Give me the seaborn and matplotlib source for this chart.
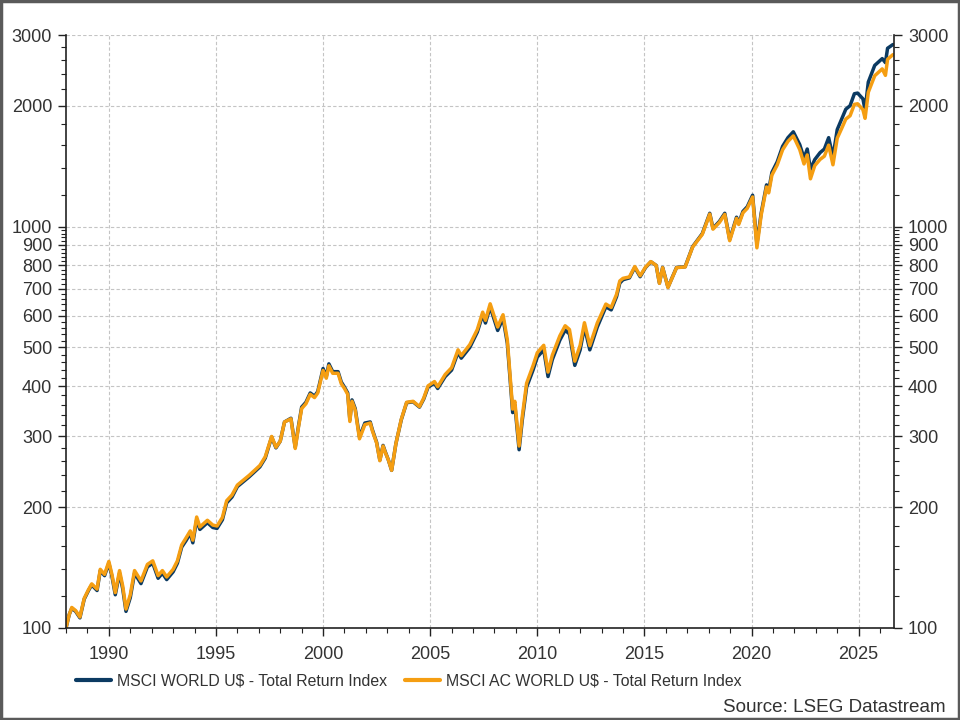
"""
MSCI World vs MSCI AC World total return indices (rebased to 100), log scale
"""
import numpy as np
import pandas as pd
import seaborn as sns
import matplotlib
matplotlib.use("Agg")
import matplotlib.pyplot as plt
from matplotlib.ticker import FixedLocator, NullFormatter, FixedFormatter, MultipleLocator
from matplotlib.patches import Rectangle


YEARS = [
    1988.00, 1988.15, 1988.27, 1988.45, 1988.65, 1988.85, 1989.05, 1989.20, 1989.45, 1989.60,
    1989.80, 1990.00, 1990.15, 1990.30, 1990.50, 1990.65, 1990.80, 1991.00, 1991.20, 1991.50,
    1991.80, 1992.05, 1992.30, 1992.50, 1992.70, 1993.00, 1993.20, 1993.40, 1993.60, 1993.80,
    1993.92, 1994.10, 1994.25, 1994.60, 1994.85, 1995.05, 1995.30, 1995.50, 1995.75, 1996.00,
    1996.30, 1996.55, 1996.80, 1997.05, 1997.30, 1997.60, 1997.80, 1998.00, 1998.20, 1998.50,
    1998.70, 1998.85, 1999.00, 1999.20, 1999.40, 1999.60, 1999.75, 2000.00, 2000.15, 2000.27,
    2000.45, 2000.70, 2000.85, 2001.00, 2001.15, 2001.25, 2001.35, 2001.50, 2001.70, 2001.95,
    2002.20, 2002.30, 2002.50, 2002.65, 2002.80, 2002.90, 2003.05, 2003.20, 2003.40, 2003.65,
    2003.90, 2004.20, 2004.50, 2004.70, 2004.90, 2005.20, 2005.35, 2005.70, 2006.00, 2006.30,
    2006.45, 2006.85, 2007.20, 2007.45, 2007.58, 2007.80, 2008.15, 2008.40, 2008.60, 2008.85,
    2008.95, 2009.15, 2009.30, 2009.50, 2009.80, 2010.00, 2010.30, 2010.50, 2010.70, 2011.05,
    2011.30, 2011.50, 2011.75, 2012.00, 2012.20, 2012.45, 2012.80, 2013.20, 2013.45, 2013.70,
    2013.85, 2014.00, 2014.30, 2014.55, 2014.80, 2015.05, 2015.30, 2015.55, 2015.70, 2015.85,
    2016.10, 2016.50, 2016.90, 2017.25, 2017.70, 2018.05, 2018.20, 2018.50, 2018.75, 2018.98,
    2019.30, 2019.40, 2019.60, 2019.80, 2020.05, 2020.25, 2020.45, 2020.70, 2020.80, 2020.95,
    2021.20, 2021.45, 2021.70, 2021.95, 2022.25, 2022.45, 2022.60, 2022.75, 2022.95, 2023.20,
    2023.40, 2023.60, 2023.80, 2024.00, 2024.20, 2024.40, 2024.60, 2024.80, 2024.95, 2025.20,
    2025.30, 2025.45, 2025.75, 2026.10, 2026.25, 2026.35, 2026.60,
]

MSCI_WORLD = [
    100, 108, 112, 110, 106, 118, 124, 128, 124, 139,
    135, 145, 134, 121, 137, 125, 110, 119, 137, 129,
    142, 145, 133, 137, 132, 138, 145, 159, 165, 172,
    163, 186, 176, 183, 178, 177, 186, 205, 212, 225,
    232, 238, 245, 252, 265, 299, 281, 292, 326, 333,
    282, 318, 355, 365, 385, 378, 388, 443, 423, 455,
    435, 435, 410, 398, 385, 330, 370, 352, 299, 324,
    326, 312, 290, 262, 285, 275, 262, 247, 288, 330,
    364, 366, 355, 372, 398, 407, 395, 423, 439, 486,
    470, 500, 546, 603, 575, 631, 551, 591, 512, 344,
    360, 278, 330, 398, 439, 473, 493, 423, 466, 521,
    552, 540, 451, 493, 562, 493, 562, 631, 620, 669,
    723, 737, 745, 791, 750, 790, 817, 800, 723, 791,
    706, 791, 794, 891, 960, 1079, 990, 1030, 1079, 928,
    1055, 1019, 1091, 1120, 1197, 905, 1080, 1270, 1230, 1364,
    1450, 1584, 1665, 1722, 1600, 1480, 1560, 1388, 1468, 1528,
    1560, 1665, 1490, 1744, 1850, 1960, 2000, 2142, 2150, 2080,
    1950, 2290, 2520, 2620, 2560, 2780, 2840,
]

MSCI_AC_WORLD = [
    100, 108, 112.5, 110.5, 106.5, 118.5, 124.6, 128.8, 125, 140,
    136, 146.5, 135.5, 122.5, 139, 127, 111.5, 121, 139, 131,
    144, 147, 135, 139, 134, 140, 147, 161, 167.5, 174.5,
    165.5, 189, 178.5, 185.5, 180.5, 179.5, 188.5, 207.5, 214.5, 227,
    234, 240, 247, 254, 267, 300, 282, 292, 326, 332,
    280, 316, 352, 362, 382, 375, 385, 438, 419, 450,
    431, 431, 406, 395, 382, 327, 367, 349, 296, 321,
    324, 310, 289, 261, 284, 274, 262, 247, 288, 331,
    365, 367, 356, 374, 401, 411, 399, 428, 445, 493,
    477, 508, 554, 612, 584, 642, 562, 603, 522, 351,
    367, 284, 337, 407, 450, 485, 506, 434, 478, 534,
    566, 554, 462, 506, 576, 505, 575, 641, 629, 678,
    732, 743, 749, 795, 754, 792, 818, 800, 722, 790,
    705, 790, 793, 889, 956, 1074, 985, 1024, 1072, 922,
    1048, 1012, 1082, 1110, 1185, 885, 1068, 1255, 1213, 1343,
    1424, 1553, 1630, 1682, 1555, 1432, 1508, 1315, 1418, 1470,
    1497, 1595, 1425, 1660, 1752, 1852, 1888, 2015, 2022, 1955,
    1860, 2160, 2375, 2470, 2380, 2610, 2680,
]

SERIES_NAMES = ["MSCI WORLD U$ - Total Return Index", "MSCI AC WORLD U$ - Total Return Index"]
COLORS = ["#0b3a62", "#f59e12"]

Y_MAJOR = [100, 200, 300, 400, 500, 600, 700, 800, 900, 1000, 2000, 3000]
Y_MINOR = [v for v in range(120, 1000, 20) if v % 100 != 0] + \
          [v for v in range(1200, 3000, 200) if v % 1000 != 0]

sns.set_style("ticks")
plt.rcParams['font.family'] = ['Liberation Sans', 'DejaVu Sans']

df = pd.DataFrame({
    "year": YEARS * 2,
    "value": MSCI_WORLD + MSCI_AC_WORLD,
    "series": [SERIES_NAMES[0]] * len(YEARS) + [SERIES_NAMES[1]] * len(YEARS),
})

fig = plt.figure(figsize=(9.6, 7.2), dpi=100)
ax = fig.add_axes([66 / 960, 1 - 628 / 720, (894 - 66) / 960, (628 - 35) / 720])

sns.lineplot(data=df, x="year", y="value", hue="series", hue_order=SERIES_NAMES,
             palette=COLORS, linewidth=2.5, ax=ax, legend=True)

ax.set_yscale("log")
ax.set_ylim(100, 3000)
ax.set_xlim(1988.0, 2026.65)

ax.yaxis.set_major_locator(FixedLocator(Y_MAJOR))
ax.yaxis.set_major_formatter(FixedFormatter([str(v) for v in Y_MAJOR]))
ax.yaxis.set_minor_locator(FixedLocator(Y_MINOR))
ax.yaxis.set_minor_formatter(NullFormatter())
ax.xaxis.set_major_locator(MultipleLocator(5))
ax.xaxis.set_minor_locator(MultipleLocator(1))
ax.xaxis.set_major_formatter(plt.FuncFormatter(lambda v, p: f"{int(round(v))}"))

ax.tick_params(axis="both", which="major", direction="out", length=6, width=1,
               labelsize=13, colors="#222222", labelcolor="#333333")
ax.tick_params(axis="both", which="minor", direction="out", length=3.5, width=0.8, colors="#222222")
ax.tick_params(axis="y", which="both", right=True, labelright=True, left=True, labelleft=True)
ax.tick_params(axis="y", which="major", pad=4)
ax.tick_params(axis="x", which="major", pad=7)

ax.grid(True, which="major", color="#c4c4c4", linestyle=(0, (3, 2)), linewidth=0.8)
ax.set_axisbelow(True)
for side in ["left", "right", "bottom"]:
    ax.spines[side].set_color("#222222")
    ax.spines[side].set_linewidth(1.2)
ax.spines["top"].set_visible(False)

ax.set_xlabel("")
ax.set_ylabel("")

handles, labels = ax.get_legend_handles_labels()
ax.get_legend().remove()
for h in handles:
    h.set_linewidth(3)
fig.legend(handles, labels, loc="center left", bbox_to_anchor=(62 / 960, 1 - 681 / 720),
           ncol=2, frameon=False, fontsize=11.4, handlelength=2.2, columnspacing=1.1,
           handletextpad=0.4, labelcolor="#333333")

fig.text(946 / 960, 1 - 707 / 720, "Source: LSEG Datastream", ha="right", va="center",
         fontsize=13.6, color="#333333")

fig.patches.append(Rectangle((0.001, 0.001), 0.998, 0.998, transform=fig.transFigure,
                             fill=False, edgecolor="#5a5a5a", linewidth=2.5))

fig.savefig("out.png", dpi=100)
